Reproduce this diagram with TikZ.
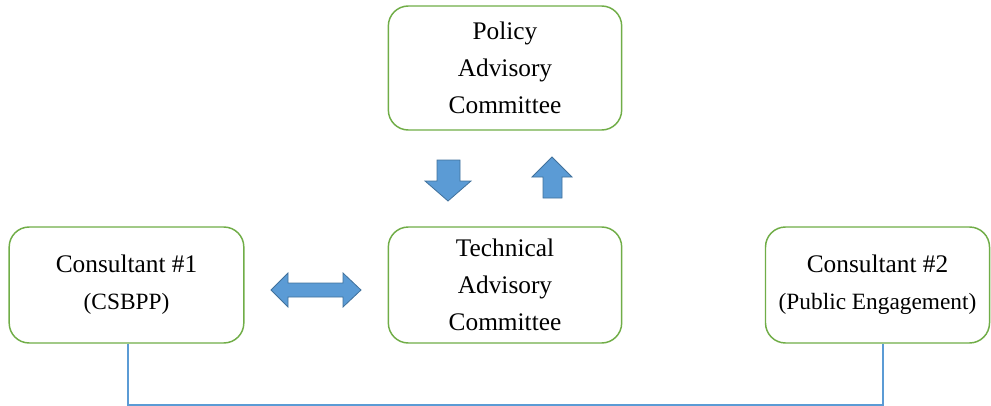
\documentclass[tikz,border=0pt]{standalone}
\usepackage{fontspec}
\setmainfont{Liberation Serif}
\definecolor{boxgreen}{RGB}{112,173,71}
\definecolor{arrowblue}{RGB}{91,155,213}
\definecolor{arrowedge}{RGB}{65,113,156}
\tikzset{
  group/.style={draw=boxgreen, line width=1.1pt, rounded corners=15pt, fill=white,
    align=center, font=\fontsize{19}{27.5}\selectfont, minimum height=87pt},
  blockarrow/.style={fill=arrowblue, draw=arrowedge, line width=0.6pt, line join=miter},
  link/.style={draw=arrowblue, line width=1.6pt}
}
\begin{document}
\begin{tikzpicture}[x=0.75pt,y=-0.75pt]
  \useasboundingbox (0,0) rectangle (991,406);
  % committees
  \node[group, minimum width=175pt, minimum height=93pt] (policy) at (505,68)
    {Policy\\Advisory\\Committee};
  \node[group, minimum width=175pt] (tac) at (505,285)
    {Technical\\Advisory\\Committee};
  % consultants
  \node[group, minimum width=176pt] (cons1) at (126.5,285)
    {Consultant \#1\\{\fontsize{17.5}{27}\selectfont (CSBPP)}};
  \node[group, minimum width=168pt] (cons2) at (877.5,285)
    {Consultant \#2\\{\fontsize{17.5}{27}\selectfont (Public Engagement)}};
  % block arrows
  \draw[blockarrow] (437,160) -- (460,160) -- (460,181) -- (471,181) -- (448,201)
    -- (425,181) -- (437,181) -- cycle;
  \draw[blockarrow] (543,198) -- (562,198) -- (562,177) -- (572,177) -- (552,157)
    -- (532,177) -- (543,177) -- cycle;
  \draw[blockarrow] (271,290) -- (288,273) -- (288,283) -- (343,283) -- (343,273)
    -- (361,290) -- (343,307) -- (343,297) -- (288,297) -- (288,307) -- cycle;
  % link between consultants
  \draw[link] ([xshift=1pt]cons1.south) -- ++(0,61) -| ([xshift=4pt]cons2.south);
\end{tikzpicture}
\end{document}
